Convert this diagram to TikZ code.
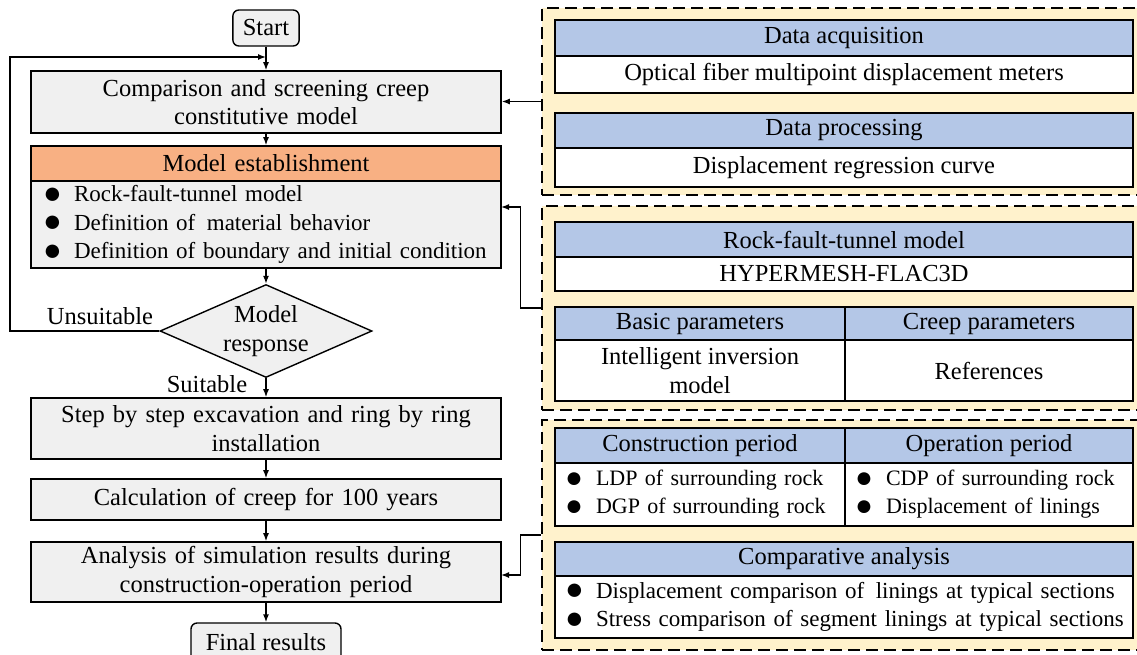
\documentclass[tikz,border=0pt]{standalone}
\usepackage{fontspec}
\setmainfont{Liberation Serif}
\usepackage{xcolor}
\usetikzlibrary{positioning,arrows.meta,shapes.geometric}
\definecolor{boxgray}    {RGB}{240,240,240}
\definecolor{headorange} {RGB}{248,176,131}
\definecolor{headblue}   {RGB}{180,199,231}
\definecolor{panelyellow}{RGB}{255,242,204}
\newcommand{\bitem}[1]{\mbox{\makebox[31pt][l]{\smash{\raisebox{-1.6pt}{\scalebox{1.35}{●}}}}#1}}

\begin{document}
\begin{tikzpicture}[
    x=1pt, y=-1pt,
    font={\fontsize{24.5}{28.5}\selectfont},
    >={Latex[length=8pt,width=6pt]},
    flow/.style={draw,line width=1.6pt,fill=boxgray,minimum width=470pt,text width=446pt,inner xsep=12pt,inner ysep=0pt,align=center},
    head/.style={flow,fill=headorange},
    term/.style={draw,line width=1.4pt,fill=boxgray,rounded corners=6pt,inner xsep=10pt,inner ysep=0pt,minimum height=36pt},
    dec/.style={diamond,draw,line width=1.4pt,fill=boxgray,aspect=2.28,inner sep=0pt,minimum width=212pt,minimum height=93pt,align=center},
    panel/.style={draw,dash pattern=on 12pt off 6pt,line width=1.6pt,fill=panelyellow,minimum width=608pt},
    bhead/.style={draw,line width=1.4pt,fill=headblue,minimum width=578pt,inner sep=0pt,align=center},
    bcell/.style={bhead,fill=white},
    half/.style={minimum width=290pt},
    blist/.style={align=left,font={\fontsize{23}{28.5}\selectfont}},
    lbl/.style={inner sep=0pt},
    link/.style={->,line width=1.4pt}
]
    \clip (0,0) rectangle (1137,654);

    % left column
    \node[term] (start) at (266,28) {Start};
    \node[flow,minimum height=62pt] (cmp) at (266,102) {Comparison and screening creep\\constitutive model};
    \node[head,minimum height=35pt] (mhead) at (266,163.5) {Model establishment};
    \node[flow,blist,minimum height=87pt] (mbody) at (266,224.5) {\bitem{Rock-fault-tunnel model}\\\bitem{Definition of\, material behavior}\\\bitem{Definition of boundary and initial condition}};
    \node[dec] (dia) at (266,331) {Model\\response};
    \node[lbl] (unsuit) at (100,316) {Unsuitable};
    \node[lbl] (suit) at (207,384) {Suitable};
    \node[flow,minimum height=61pt] (step) at (266,428.5) {Step by step excavation and ring by ring\\installation};
    \node[flow,minimum height=41pt] (calc) at (266,499.5) {Calculation of creep for 100 years};
    \node[flow,minimum height=60pt] (ana) at (266,572) {Analysis of simulation results during\\construction-operation period};
    \node[term,minimum width=150pt,minimum height=38pt] (final) at (266,642) {Final results};

    % right panels
    \node[panel,minimum height=187pt] (p1) at (846,101.5) {};
    \node[bhead,minimum height=36pt] (acq) at (844,38) {Data acquisition};
    \node[bcell,minimum height=37pt] (fiber) at (844,74.5) {Optical fiber multipoint displacement meters};
    \node[bhead,minimum height=35pt] (proc) at (844,130.5) {Data processing};
    \node[bcell,minimum height=39pt] (curve) at (844,167.5) {Displacement regression curve};

    \node[panel,minimum height=204pt] (p2) at (846,308) {};
    \node[bhead,minimum height=35pt] (rft) at (844,239.5) {Rock-fault-tunnel model};
    \node[bcell,minimum height=34pt] (hyp) at (844,274) {HYPERMESH-FLAC3D};
    \node[bhead,half,minimum height=33pt] (basic) at (700,323.5) {Basic parameters};
    \node[bhead,half,minimum width=288pt,minimum height=33pt] (creep) at (989,323.5) {Creep parameters};
    \node[bcell,half,minimum height=61pt] (inv) at (700,370.5) {Intelligent inversion\\model};
    \node[bcell,half,minimum width=288pt,minimum height=61pt] (refs) at (989,370.5) {References};

    \node[panel,minimum height=230pt] (p3) at (846,535) {};
    \node[bhead,half,minimum height=35pt] (cons) at (700,445.5) {Construction period};
    \node[bhead,half,minimum width=288pt,minimum height=35pt] (oper) at (989,445.5) {Operation period};
    \node[bcell,half,blist,minimum height=63pt,text width=270pt,font={\fontsize{22}{28}\selectfont}] (consb) at (700,494.5) {\bitem{LDP of surrounding rock}\\\bitem{DGP of surrounding rock}};
    \node[bcell,half,blist,minimum width=288pt,minimum height=63pt,text width=268pt,font={\fontsize{22}{28}\selectfont}] (operb) at (989,494.5) {\bitem{CDP of surrounding rock}\\\bitem{Displacement of linings}};
    \node[bhead,minimum height=34pt] (comp) at (844,559) {Comparative analysis};
    \node[bcell,blist,minimum height=62pt,text width=558pt] (compb) at (844,607) {\bitem{Displacement comparison of\, linings at typical sections}\\\bitem{Stress comparison of segment linings at typical sections}};

    % connectors
    \coordinate (loopL) at (10,57);
    \coordinate (loopIn) at (266,57);
    \coordinate (mIn) at (501,207);
    \coordinate (aIn) at (501,575);
    \draw[link] (start) -- (cmp);
    \draw[link] (cmp) -- (mhead);
    \draw[link] (mbody) -- (dia);
    \draw[link] (dia) -- (step);
    \draw[link] (step) -- (calc);
    \draw[link] (calc) -- (ana);
    \draw[link] (ana) -- (final);
    \draw[link] (dia.west) -| (loopL) -- (loopIn);
    \draw[link] (p1.west) -- (cmp.east |- p1.west);
    \draw[link] (p2.west) -- ++(-21,0) |- (mIn);
    \draw[link] (p3.west) -- ++(-21,0) |- (aIn);
\end{tikzpicture}
\end{document}
